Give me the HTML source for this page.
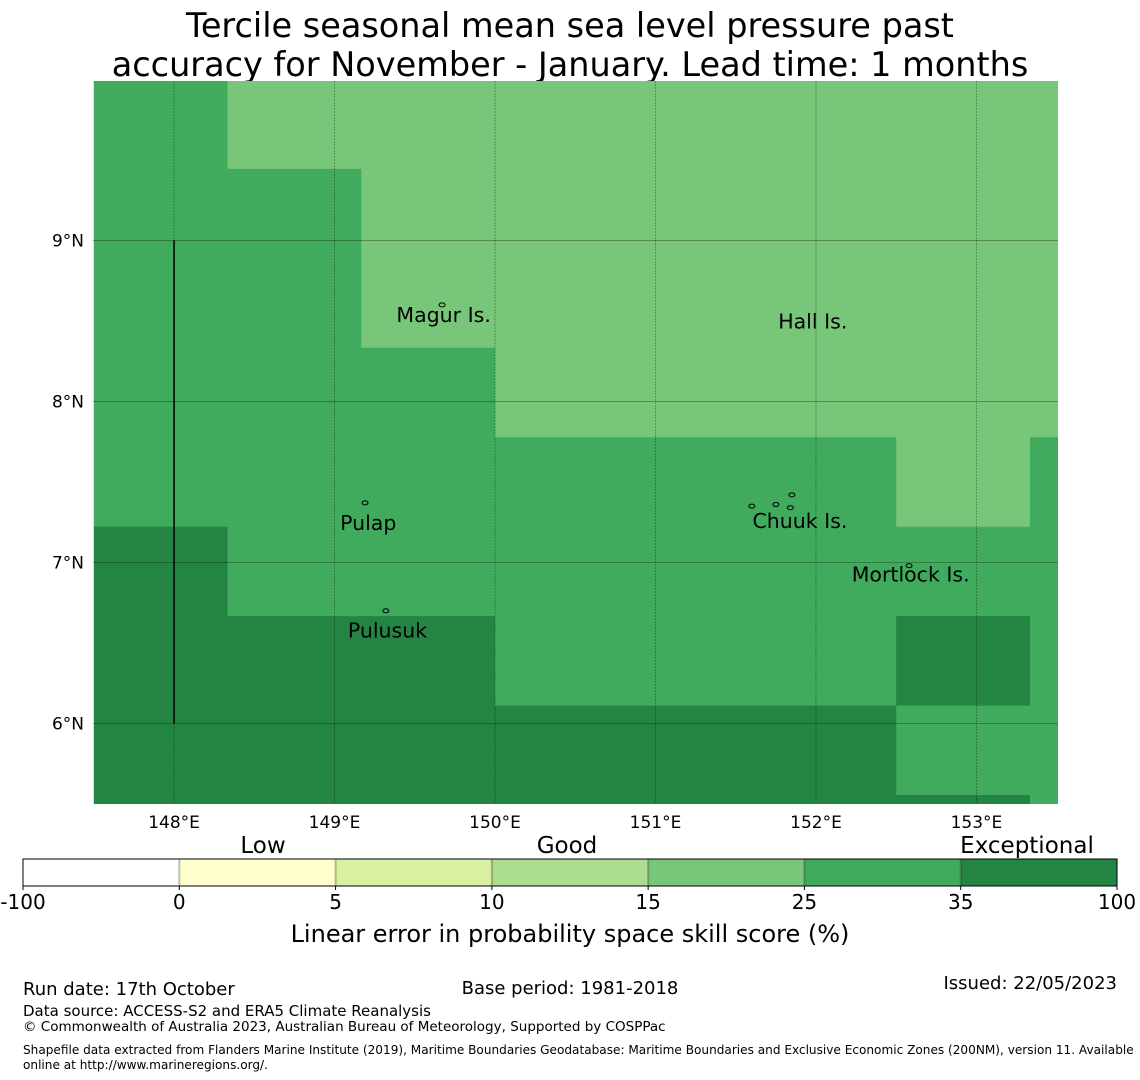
<!DOCTYPE html>
<html><head><meta charset="utf-8"><style>
body{margin:0;background:#fff;}
svg{display:block;font-family:"DejaVu Sans","Liberation Sans",sans-serif;}
</style></head><body>
<svg id="s" width="1140" height="1080" viewBox="0 0 1140 1080">
<text x="570" y="37" font-size="33.5" text-anchor="middle">Tercile seasonal mean sea level pressure past</text>
<text x="570" y="76" font-size="33.5" text-anchor="middle">accuracy for November - January. Lead time: 1 months</text>
<g id="map"></g>
<g id="cbar"></g>
<text x="570" y="942" font-size="24" text-anchor="middle">Linear error in probability space skill score (%)</text>
<text x="23" y="995" font-size="18">Run date: 17th October</text>
<text x="570" y="994" font-size="18" text-anchor="middle">Base period: 1981-2018</text>
<text x="1117" y="989" font-size="18" text-anchor="end">Issued: 22/05/2023</text>
<text x="23" y="1016" font-size="15">Data source: ACCESS-S2 and ERA5 Climate Reanalysis</text>
<text x="23" y="1031" font-size="13.5">© Commonwealth of Australia 2023, Australian Bureau of Meteorology, Supported by COSPPac</text>
<text x="23" y="1054" font-size="12.1">Shapefile data extracted from Flanders Marine Institute (2019), Maritime Boundaries Geodatabase: Maritime Boundaries and Exclusive Economic Zones (200NM), version 11. Available</text>
<text x="23" y="1069" font-size="12.1">online at http://www.marineregions.org/.</text>
</svg>
<script>
const NS="http://www.w3.org/2000/svg";
// Data
const colorBins=["#ffffff","#ffffcc","#d9f0a3","#addd8e","#78c679","#41ab5d","#238443"];
const binLabels=["-100","0","5","10","15","25","35","100"];
const lonTicks=[148,149,150,151,152,153];
const latTicks=[9,8,7,6];
// grid cell category (index into colorBins) rows from north (lat 10.0) to south, cols from lon 147.5
const cellRows=[
[5,4,4,4,4,4,4,4],
[5,5,4,4,4,4,4,4],
[5,5,4,4,4,4,4,4],
[5,5,5,4,4,4,4,4],
[5,5,5,5,5,5,4,5],
[6,5,5,5,5,5,5,5],
[6,6,6,5,5,5,6,5],
[6,6,6,6,6,6,5,5],
[6,6,6,6,6,6,6,5]];
const cellLon0=147.5, cellDLon=5/6, cellLat0=10.0, cellDLat=5/9;
const places=[["Magur Is.",149.68,8.53],["Hall Is.",151.98,8.49],["Pulap",149.21,7.24],["Chuuk Is.",151.9,7.25],["Mortlock Is.",152.59,6.92],["Pulusuk",149.33,6.57]];
const islands=[[149.67,8.6],[149.19,7.37],[149.32,6.7],[151.6,7.35],[151.75,7.36],[151.85,7.42],[151.84,7.34],[152.58,6.98]];
// axes
const X0=93,X1=1058,Y0=81,Y1=804;
const lonMin=147.495,lonMax=153.508,latMin=5.5,latMax=9.99;
const xs=l=>X0+(l-lonMin)/(lonMax-lonMin)*(X1-X0);
const ys=l=>Y0+(latMax-l)/(latMax-latMin)*(Y1-Y0);
function el(t,a,p){const e=document.createElementNS(NS,t);for(const k in a)e.setAttribute(k,a[k]);p.appendChild(e);return e;}
const map=document.getElementById("map");
const defs=el("defs",{},map);const cp=el("clipPath",{id:"c"},defs);el("rect",{x:X0,y:Y0,width:X1-X0,height:Y1-Y0},cp);
const cg=el("g",{"clip-path":"url(#c)"},map);
cellRows.forEach((row,r)=>row.forEach((v,c)=>{
 const x=xs(cellLon0+c*cellDLon),x2=xs(cellLon0+(c+1)*cellDLon),y=ys(cellLat0-r*cellDLat),y2=ys(cellLat0-(r+1)*cellDLat);
 const e=el("rect",{x:x,y:y,width:x2-x+0.5,height:y2-y+0.5,fill:colorBins[v]},cg);
 
 
}));
lonTicks.forEach(l=>{
 const x=xs(l);
 const g=el("line",{x1:x,x2:x,y1:Y0,y2:Y1,stroke:"#000","stroke-opacity":0.35,"stroke-width":0.8,"stroke-dasharray":"2,1"},map);
 
 
 const t=el("text",{x:x,y:828,"font-size":17,"text-anchor":"middle"},map);t.textContent=l+"°E";
 
 
});
latTicks.forEach(l=>{
 const y=ys(l);
 const g=el("line",{x1:X0,x2:X1,y1:y,y2:y,stroke:"#000","stroke-opacity":0.35,"stroke-width":0.8},map);
 
 
 const t=el("text",{x:84,y:y+6,"font-size":17,"text-anchor":"end"},map);t.textContent=l+"°N";
 
 
});
const bl=el("line",{x1:xs(148),x2:xs(148),y1:ys(9),y2:ys(6),stroke:"#000","stroke-width":1.5},map);


islands.forEach(p=>{
 const e=el("ellipse",{cx:xs(p[0]),cy:ys(p[1]),rx:3,ry:2,fill:"none",stroke:"#000","stroke-width":1},map);
 
 
});
places.forEach(p=>{
 const t=el("text",{x:xs(p[1]),y:ys(p[2])+6,"font-size":20.5,"text-anchor":"middle"},map);t.textContent=p[0];
 
 
});
// colorbar
const cb=document.getElementById("cbar");
const CX0=23,CX1=1117,CY=859,CH=27,w=(CX1-CX0)/colorBins.length;
colorBins.forEach((c,i)=>{
 const r=el("rect",{x:CX0+i*w,y:CY,width:w,height:CH,fill:c},cb);
 
 
 if(i>0){const d=el("line",{x1:CX0+i*w,x2:CX0+i*w,y1:CY,y2:CY+CH,stroke:"#000","stroke-opacity":0.25,"stroke-width":2},cb);
 
 }
});
el("rect",{x:CX0,y:CY,width:CX1-CX0,height:CH,fill:"none",stroke:"#000","stroke-width":1},cb);
binLabels.forEach((l,i)=>{
 const x=CX0+i*w;
 el("line",{x1:x,x2:x,y1:CY+CH,y2:CY+CH+4,stroke:"#000"},cb);
 const t=el("text",{x:x,y:909,"font-size":20,"text-anchor":"middle"},cb);t.textContent=l;
 
 
});
[["Low",263],["Good",567],["Exceptional",1027]].forEach(p=>{
 const t=el("text",{x:p[1],y:853,"font-size":23,"text-anchor":"middle"},cb);t.textContent=p[0];
 
 
});
</script>
</body></html>
